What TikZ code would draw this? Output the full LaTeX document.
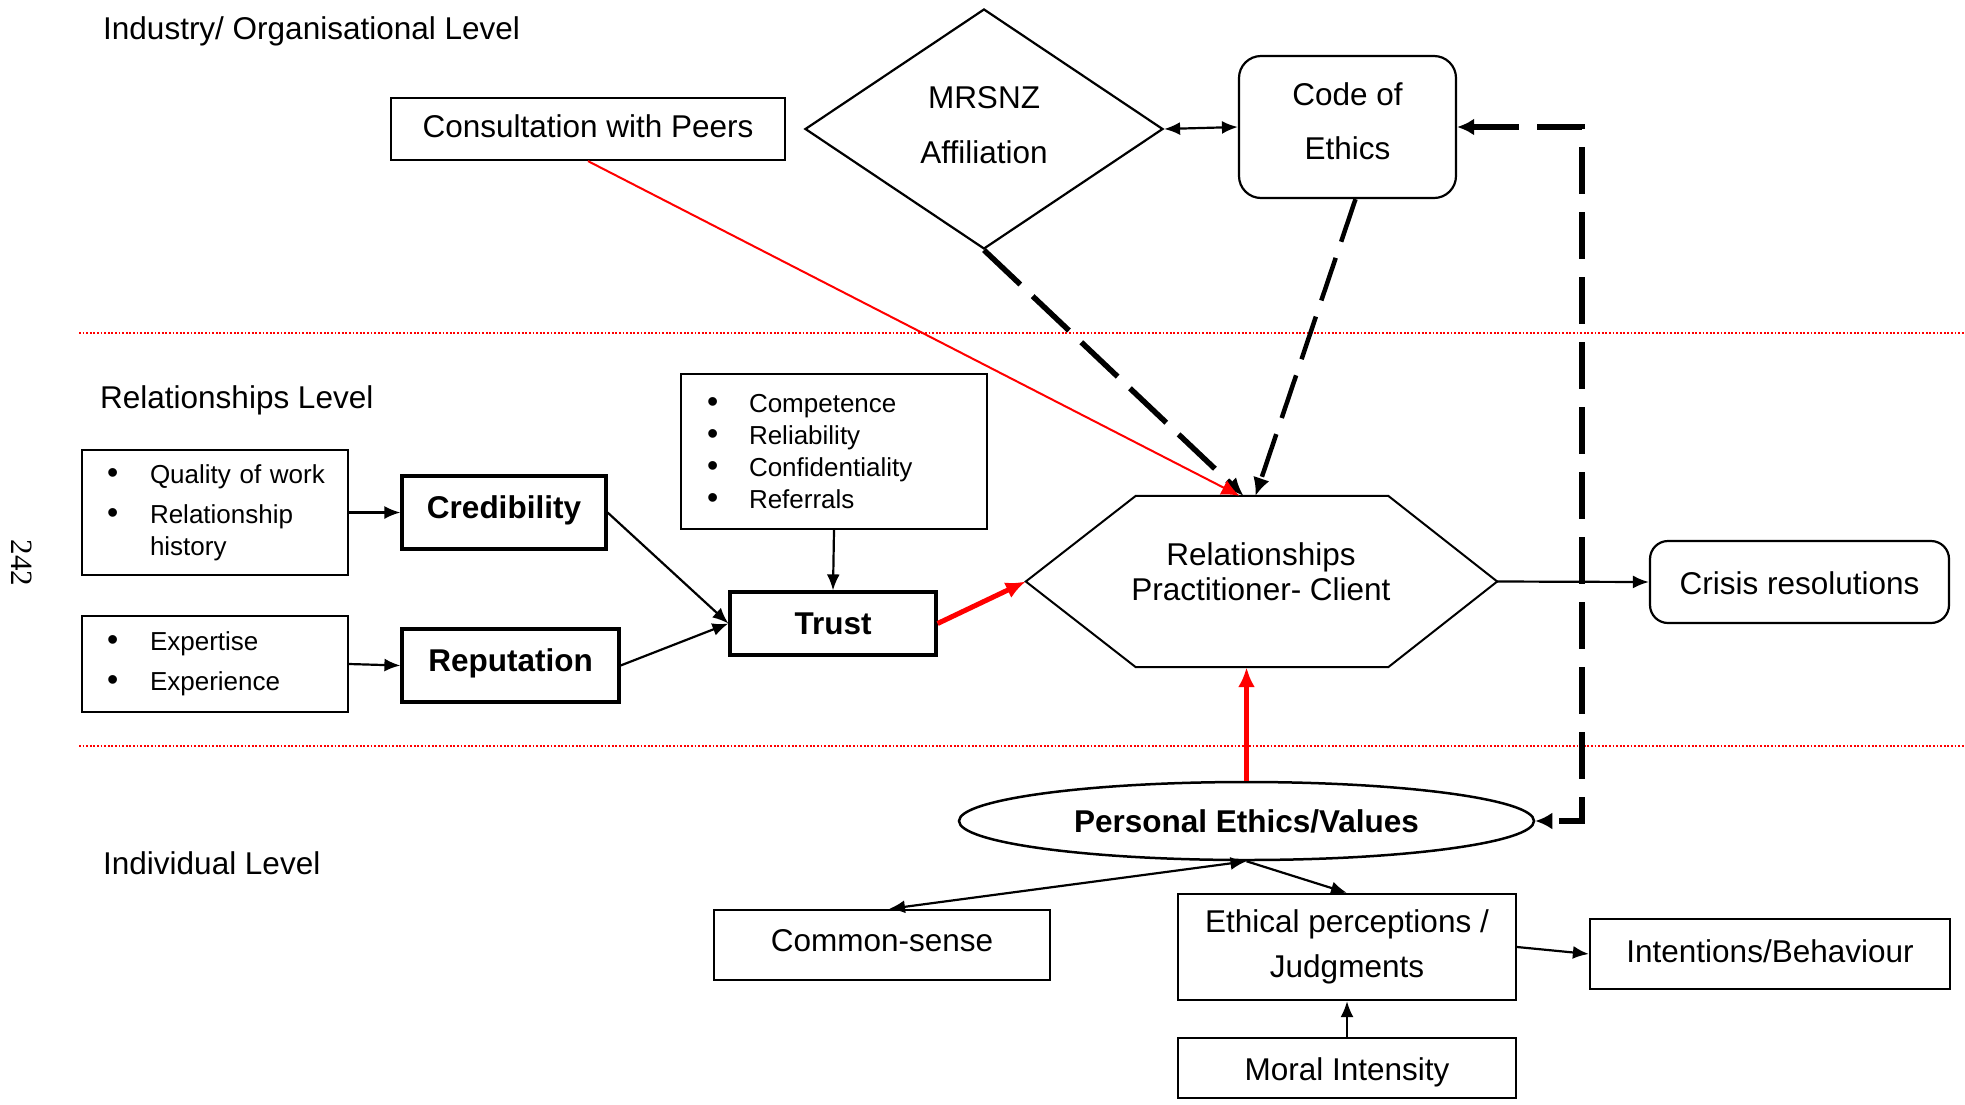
\documentclass[tikz,border=0pt]{standalone}
\usepackage{fontspec}
\setmainfont{Liberation Sans}
\newfontfamily\pgnumfont{Liberation Serif}
\usetikzlibrary{arrows.meta,shapes.geometric}
\newcommand\fsMain{\fontsize{31.5}{38}\selectfont}
\newcommand\fsList{\fontsize{26}{32}\selectfont}
\newcommand\bulA{\hspace*{25pt}\makebox[43pt][l]{\fontsize{32}{32}\selectfont\textbullet}}
\newcommand\bulB{\hspace*{26pt}\makebox[42pt][l]{\fontsize{32}{32}\selectfont\textbullet}}
\begin{document}
\begin{tikzpicture}[x=1pt,y=-1pt,
  >={Latex[length=16pt,width=13pt]},
  box/.style={draw, line width=2.2pt, rectangle, inner sep=0pt, font=\fsMain, align=center},
  onel/.style={text height=23pt, text depth=7pt},
  boldbox/.style={box, line width=3.2pt, font=\fsMain\bfseries},
  rbox/.style={box, rounded corners=22pt},
  listbox/.style={draw, line width=2.2pt, inner sep=0pt, font=\fsList, align=left},
  lbl/.style={inner sep=0pt, align=center},
  lvl/.style={anchor=west, font=\fsMain, inner sep=0pt},
  conn/.style={line width=2.2pt, ->},
  redthick/.style={draw=red, line width=5pt, -{Latex[length=20pt,width=17pt]}, red},
  redthin/.style={draw=red, line width=2pt, -{Latex[length=18pt,width=16pt]}, red},
  dashA/.style={line width=5.5pt, dash pattern=on 50pt off 17pt, -{Latex[length=18pt,width=17pt]}},
  dashB/.style={line width=4.5pt, dash pattern=on 45pt off 17pt, -{Latex[length=18pt,width=17pt]}},
  loopd/.style={line width=6pt, dash pattern=on 47pt off 18pt, {Latex[length=17pt,width=17pt]}-{Latex[length=17pt,width=17pt]}},
  sep/.style={draw=red, line width=1.8pt, dash pattern=on 1.8pt off 1.8pt}
]
\useasboundingbox (0,0) rectangle (1965,1104);

% level separators
\draw[sep] (79,333) -- (1965,333);
\draw[sep] (79,746) -- (1965,746);

% level labels
\node[lvl] (lvlA) at (103,31) {Industry/ Organisational Level};
\node[lvl] (lvlB) at (100,400) {Relationships Level};
\node[lvl] (lvlC) at (103,863) {Individual Level};
\node[rotate=-90, inner sep=0pt, font=\pgnumfont\fontsize{31}{36}\selectfont] (pg) at (22,563) {242};

% industry level
\node[box, onel, minimum width=394pt, minimum height=62pt] (cons) at (588,129) {Consultation with Peers};
\node[diamond, draw, line width=2.2pt, minimum width=358pt, minimum height=240pt, inner sep=0pt, aspect=1.49] (mrsnz) at (984,129) {};
\node[lbl, font={\fontsize{31.5}{55}\selectfont}] (mrsnzlbl) at (984,125) {MRSNZ\\Affiliation};
\node[rbox, minimum width=217pt, minimum height=142pt] (code) at (1347.5,127) {};
\node[lbl, font={\fontsize{31.5}{54}\selectfont}] (codelbl) at (1347.5,121) {Code of\\Ethics};

% relationships level
\node[listbox, text width=266pt, minimum height=125pt] (qual) at (215,512.5) {\bulA Quality of work\\[8pt]\bulA Relationship\\\hspace*{68pt}history};
\node[boldbox, onel, text depth=12pt, minimum width=204pt, minimum height=73pt] (cred) at (504,512.5) {Credibility};
\node[listbox, text width=266pt, minimum height=96pt] (exp) at (215,664) {\bulA Expertise\\[8pt]\bulA Experience};
\node[boldbox, onel, text depth=12pt, minimum width=217pt, minimum height=73pt] (rep) at (510.5,665.5) {Reputation};
\node[listbox, text width=306pt, minimum height=155pt] (comp) at (834,451.5) {\bulB Competence\\\bulB Reliability\\\bulB Confidentiality\\\bulB Referrals};
\node[boldbox, onel, text height=28pt, minimum width=206pt, minimum height=63pt] (trust) at (833,623.5) {Trust};

\node[minimum width=471pt, minimum height=171pt, inner sep=0pt] (hex) at (1261.5,581.5) {};
\draw[line width=2pt] (hex.west) -- ([xshift=110pt]hex.north west) -- ([xshift=-109pt]hex.north east) -- (hex.east) -- ([xshift=-109pt]hex.south east) -- ([xshift=110pt]hex.south west) -- cycle;
\node[lbl, font={\fontsize{31.5}{35}\selectfont}] (hexlbl) at (1261,572) {Relationships\\Practitioner- Client};

\node[rbox, onel, text height=31pt, rounded corners=18pt, minimum width=299pt, minimum height=82pt] (crisis) at (1799.5,582) {Crisis resolutions};

% individual level
\node[ellipse, draw, line width=2.5pt, minimum width=575pt, minimum height=78pt, inner sep=0pt, font=\fsMain\bfseries] (ell) at (1246.5,821) {Personal Ethics/Values};
\node[box, onel, text depth=11pt, minimum width=336pt, minimum height=70pt] (common) at (882,945) {Common-sense};
\node[box, minimum width=338pt, minimum height=106pt, font={\fontsize{31.5}{45}\selectfont}] (eth) at (1347,947) {Ethical perceptions /\\Judgments};
\node[box, onel, minimum width=360pt, minimum height=70pt] (intent) at (1770,954) {Intentions/Behaviour};
\node[box, onel, text height=31pt, minimum width=338pt, minimum height=60pt] (moral) at (1347,1068) {Moral Intensity};

% connectors
\coordinate (bendB) at (1582,821);
\draw[loopd] (code.east) -| (bendB) -- (ell.east);
\draw[dashA] (mrsnz.south) -- ([xshift=-18pt]hex.north);
\draw[dashB] ([xshift=8pt]code.south) -- ([xshift=-6pt]hex.north);
\draw[redthin] (cons.south) -- ([xshift=-22pt]hex.north);
\draw[line width=2.2pt, <->] (mrsnz.east) -- (code.west);

\draw[conn] (qual.east) -- (cred.west);
\draw[conn] (exp.east) -- (rep.west);
\draw[conn] (cred.east) -- (trust.west);
\draw[conn] (rep.east) -- (trust.west);
\draw[conn] (comp.south) -- (trust.north);
\draw[redthick] (trust.east) -- (hex.west);
\draw[conn] (hex.east) -- (crisis.west);
\draw[redthick] (ell.north) -- (ell.north |- hex.south);

\draw[line width=2.2pt, <->] (ell.south) -- ([xshift=7pt]common.north);
\draw[conn] (ell.south) -- (eth.north);
\draw[conn] (eth.east) -- (intent.west);
\draw[conn] (moral.north) -- (eth.south);
\end{tikzpicture}
\end{document}
